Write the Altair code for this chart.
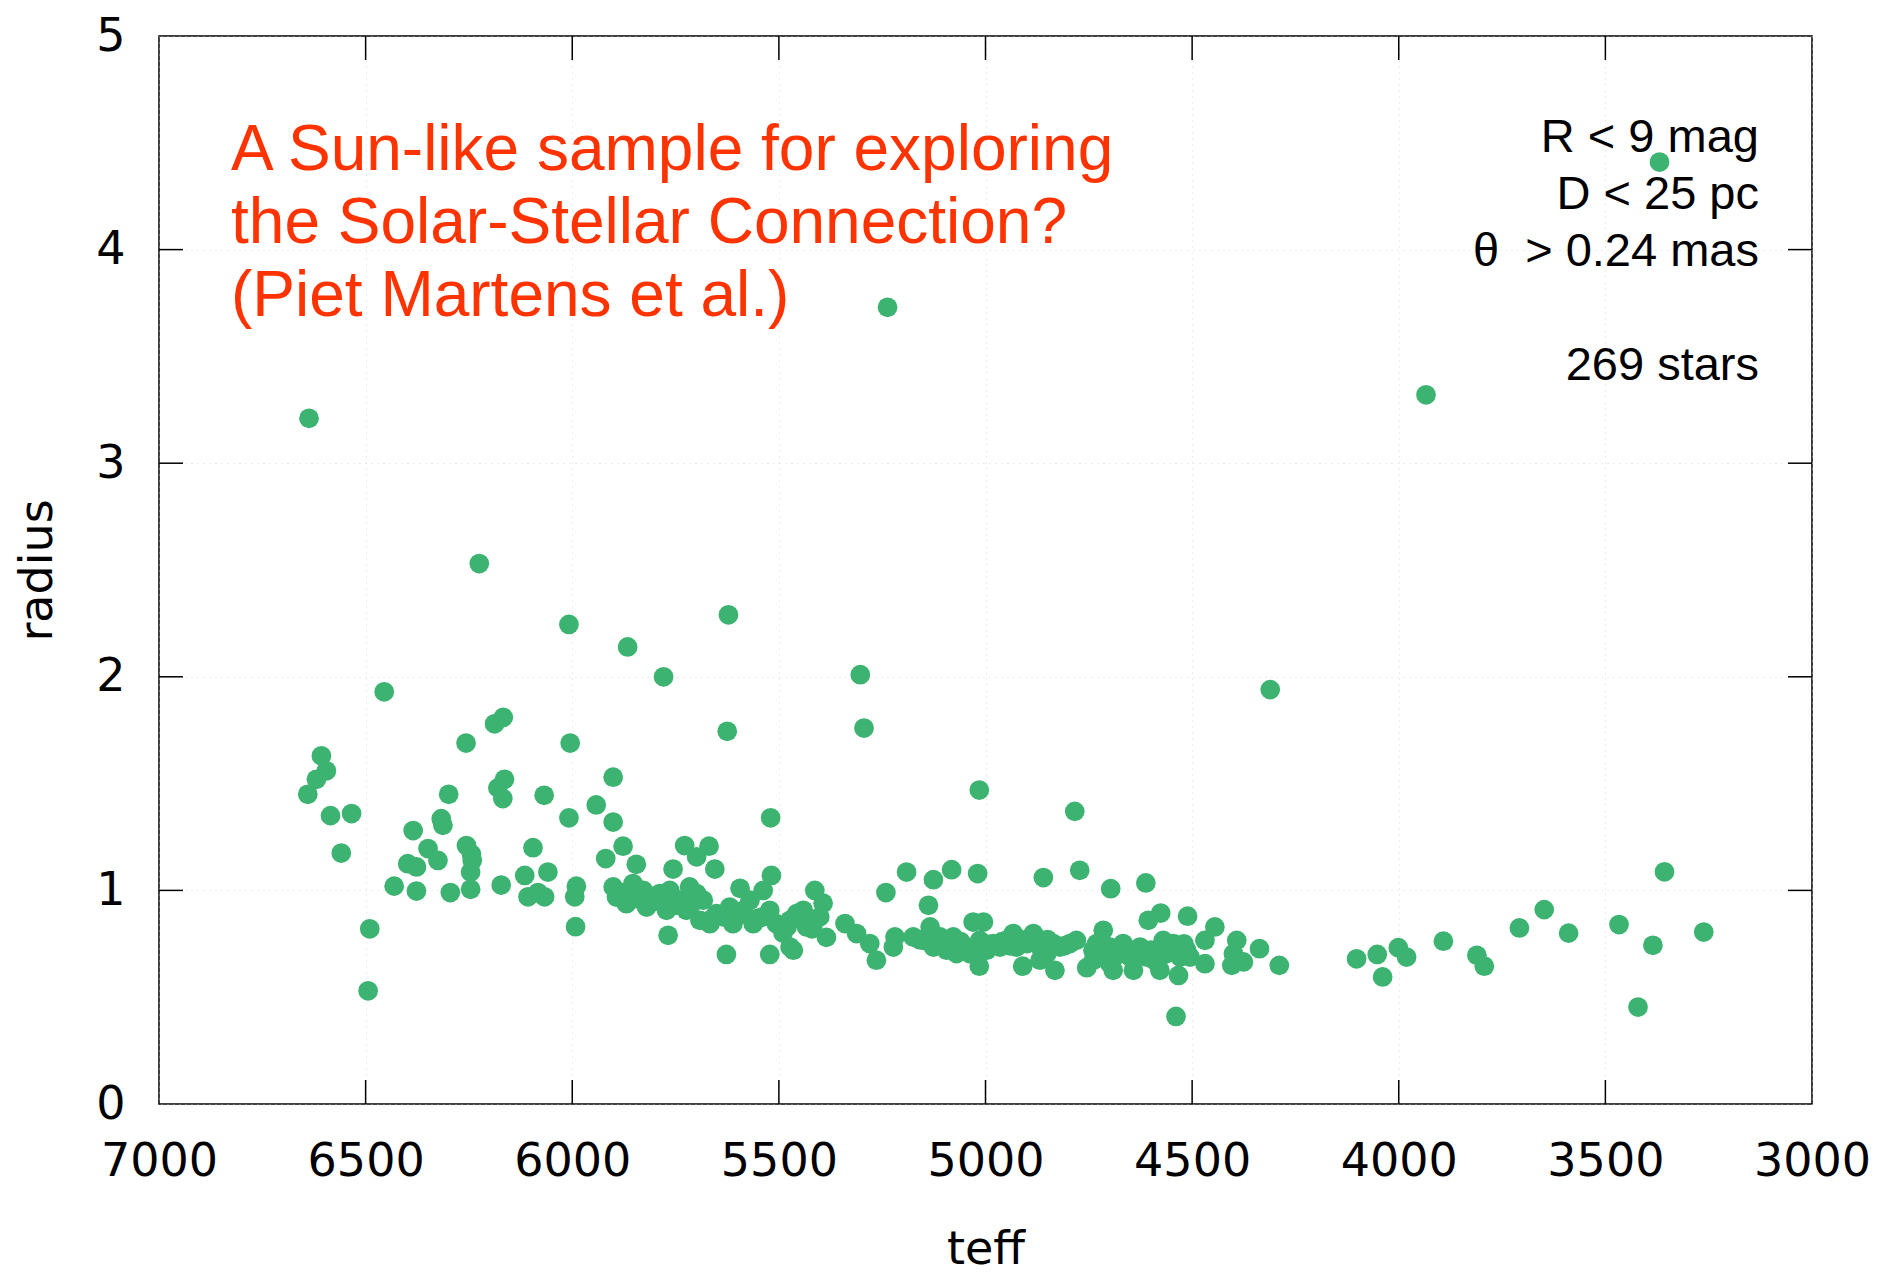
import altair as alt
import pandas as pd

# ---- data (teff [K], radius [R_sun]) ----
teff = [
    # hot end (> 5960 K)
    6637, 6225, 6008, 6455, 6180, 6164, 6168, 6188, 6167, 6257, 6005, 6607, 6595, 6619, 6640,
    6585, 6534, 6559, 6490, 6494, 6299, 6068, 6008, 6317, 6313, 6385, 6349, 6325, 6398, 6377,
    6256, 6244, 6242, 6246, 6095, 6115, 6059, 6107, 6083, 6067, 5990, 5994, 5992, 6431, 6377,
    6295, 6246, 6172,
    # 5330 - 5960 K
    5866, 5779, 5622, 5625, 5901, 5942, 5901, 5520, 5877, 5728, 5699, 5669, 5919, 5845, 5756,
    5655, 5518, 5538, 5594, 5413, 5393, 5340, 5385, 5465, 5522, 5627, 5768,
    5901, 5893, 5869, 5853, 5828, 5820, 5788, 5772, 5764, 5740, 5724, 5716, 5699, 5683, 5691,
    5667, 5651, 5635, 5619, 5611, 5586, 5570, 5562, 5538, 5522, 5506, 5490, 5473, 5457, 5441,
    5433, 5417, 5401, 5473,
    5880, 5840, 5800, 5750, 5710, 5660, 5600, 5550, 5480, 5420,
    # 4760 - 5330 K
    5237, 5303, 5294, 5015, 4784, 5191, 5126, 5082, 5019, 4860, 4772, 5241, 5138,
    5312, 5280, 5264, 5219, 5223,
    5175, 5151, 5134, 5126, 5110, 5094, 5078, 5070, 5054, 5038,
    5030, 5005,
    5014, 4997, 4981, 4965, 4949, 4933, 4925, 4900, 4884, 4868, 4852, 4836, 4820, 4796, 4780,
    5015, 4910, 4832, 4755, 4868,
    5000, 4960, 4940, 4915, 4890, 4850, 4810, 5060, 5100, 5160,
    # cool end (< 4760 K)
    4697, 4612, 4606, 4576, 4511, 4445, 4469, 4392, 4400, 4376, 4404, 4337, 4289,
    4539, 4311, 3934, 3369,
    4715, 4731, 4699, 4739, 4691, 4667, 4650, 4642, 4626, 4610, 4578, 4570, 4562, 4545, 4533,
    4529, 4513, 4505, 4469,
    4720, 4680, 4655, 4630, 4600, 4590, 4550, 4520, 4700, 4740,
    4102, 4052, 4001, 3981, 4039, 3892,
    3811, 3793, 3708, 3648, 3589, 3467, 3385, 3421, 3357, 3262,
]
radius = [
    3.21, 2.53, 2.245, 1.93, 1.48, 1.52, 1.43, 1.78, 1.81, 1.69, 1.69, 1.63, 1.56, 1.52, 1.45,
    1.35, 1.36, 1.175, 0.82, 0.53, 1.45, 1.445, 1.34, 1.336, 1.305, 1.28, 1.196, 1.14, 1.125, 1.11,
    1.21, 1.17, 1.14, 1.086, 1.20, 1.07, 1.086, 0.97, 0.99, 0.97, 1.02, 0.97, 0.83, 1.02, 0.997,
    0.99, 1.005, 1.025,
    2.14, 2.00, 2.29, 1.745, 1.53, 1.40, 1.32, 1.34, 1.207, 1.21, 1.157, 1.207, 1.149, 1.122, 1.10,
    1.10, 1.07, 1.00, 1.01, 1.00, 0.94, 0.845, 0.78, 0.72, 0.70, 0.70, 0.79,
    1.016, 0.969, 0.938, 1.032, 1.00, 0.922, 0.985, 0.907, 1.00, 0.954, 0.907, 1.016, 0.985, 0.954, 0.86,
    0.844, 0.891, 0.876, 0.922, 0.844, 0.907, 0.954, 0.844, 0.876, 0.907, 0.844, 0.80, 0.86, 0.891, 0.907,
    0.829, 0.844, 0.876, 0.735,
    0.99, 0.96, 0.95, 0.93, 0.94, 0.87, 0.88, 0.87, 0.83, 0.82,
    3.73, 2.01, 1.76, 1.47, 1.37, 1.086, 1.05, 1.097, 1.079, 1.06, 1.094, 0.99, 0.93,
    0.798, 0.751, 0.673, 0.782, 0.735,
    0.782, 0.766, 0.829, 0.735, 0.782, 0.72, 0.782, 0.704, 0.735, 0.704,
    0.852, 0.852,
    0.766, 0.72, 0.751, 0.735, 0.766, 0.798, 0.735, 0.751, 0.798, 0.735, 0.704, 0.751, 0.735, 0.751, 0.766,
    0.645, 0.645, 0.626, 0.638, 0.673,
    0.75, 0.76, 0.74, 0.77, 0.76, 0.77, 0.74, 0.76, 0.75, 0.77,
    1.008, 1.035, 0.86, 0.894, 0.879, 0.829, 0.766, 0.766, 0.704, 0.665, 0.649, 0.727, 0.649,
    0.41, 1.94, 3.32, 4.41,
    0.813, 0.751, 0.735, 0.673, 0.626, 0.751, 0.688, 0.626, 0.735, 0.688, 0.626, 0.766, 0.704, 0.751, 0.602,
    0.688, 0.72, 0.688, 0.657,
    0.70, 0.70, 0.72, 0.70, 0.72, 0.67, 0.72, 0.75, 0.66, 0.72,
    0.68, 0.70, 0.732, 0.688, 0.595, 0.762,
    0.696, 0.645, 0.824, 0.91, 0.80, 0.84, 0.743, 0.454, 1.087, 0.805,
]

x_ticks = [7000, 6500, 6000, 5500, 5000, 4500, 4000, 3500, 3000]
y_ticks = [0, 1, 2, 3, 4, 5]
x_inner = [6500, 6000, 5500, 5000, 4500, 4000, 3500]
y_inner = [1, 2, 3, 4]

NB = "\u00a0"
title_lines = ["A Sun-like sample for exploring", "the Solar-Stellar Connection?", "(Piet Martens et al.)"]
info_lines = ["R < 9 mag", "D < 25 pc", "θ" + NB + NB + "> 0.24 mas"]
count_line = "269 stars"

W, H = 1653, 1068
TICK = 24
FONT = "DejaVu Sans"

df = pd.DataFrame({"teff": teff, "radius": radius})
xt = pd.DataFrame({"teff": x_inner})
yt = pd.DataFrame({"radius": y_inner})

xscale = alt.Scale(domain=[3000, 7000], reverse=True, nice=False, zero=False)
yscale = alt.Scale(domain=[0, 5], nice=False, zero=False)
xaxis = alt.Axis(values=x_ticks, format="d", title="teff", ticks=False, domain=False,
                 labelPadding=35, titlePadding=43, grid=True, labelFlush=False,
                 labelOverlap=False, labelBound=False)
yaxis = alt.Axis(values=y_ticks, format="d", title="radius", ticks=False, domain=False,
                 labelPadding=34, titlePadding=34, grid=True, labelFlush=False,
                 labelOverlap=False, labelBound=False)

points = alt.Chart(df).mark_circle(size=390, opacity=1, color="#3cb371").encode(
    x=alt.X("teff:Q", scale=xscale, axis=xaxis),
    y=alt.Y("radius:Q", scale=yscale, axis=yaxis),
)

rule_style = dict(color="#000000", strokeWidth=1.5)
bottom_ticks = alt.Chart(xt).mark_rule(**rule_style).encode(
    x=alt.X("teff:Q", scale=xscale, axis=xaxis), y=alt.value(H), y2=alt.value(H - TICK))
top_ticks = alt.Chart(xt).mark_rule(**rule_style).encode(
    x=alt.X("teff:Q", scale=xscale, axis=xaxis), y=alt.value(0), y2=alt.value(TICK))
left_ticks = alt.Chart(yt).mark_rule(**rule_style).encode(
    y=alt.Y("radius:Q", scale=yscale, axis=yaxis), x=alt.value(0), x2=alt.value(TICK))
right_ticks = alt.Chart(yt).mark_rule(**rule_style).encode(
    y=alt.Y("radius:Q", scale=yscale, axis=yaxis), x=alt.value(W), x2=alt.value(W - TICK))

red_text = alt.Chart(df.head(1)).mark_text(
    text=title_lines, align="left", baseline="alphabetic", font="Liberation Sans",
    fontSize=64, lineHeight=73, color="#ff3300",
).encode(x=alt.value(72), y=alt.value(134))

info_text = alt.Chart(df.head(1)).mark_text(
    text=info_lines, align="right", baseline="alphabetic", font="Liberation Sans",
    fontSize=47, lineHeight=57, color="#000000",
).encode(x=alt.value(1600), y=alt.value(116))

count_text = alt.Chart(df.head(1)).mark_text(
    text=count_line, align="right", baseline="alphabetic", font="Liberation Sans",
    fontSize=47, color="#000000",
).encode(x=alt.value(1600), y=alt.value(344))

chart = alt.layer(
    points, bottom_ticks, top_ticks, left_ticks, right_ticks, red_text, info_text, count_text
).properties(
    width=W, height=H,
    autosize=alt.AutoSizeParams(type="none"),
    padding={"left": 159, "top": 36, "right": 67, "bottom": 171},
    background="white",
).configure_view(
    stroke="#000000", strokeWidth=1.5
).configure_axis(
    labelFont=FONT, labelFontSize=46, labelColor="#000000",
    titleFont=FONT, titleFontSize=46, titleFontWeight="normal", titleColor="#000000",
    gridColor="#c8c8c8", gridDash=[1, 5], gridOpacity=0.7, gridWidth=1,
)

chart.save("out.html", embed_options={"renderer": "svg", "actions": False})
